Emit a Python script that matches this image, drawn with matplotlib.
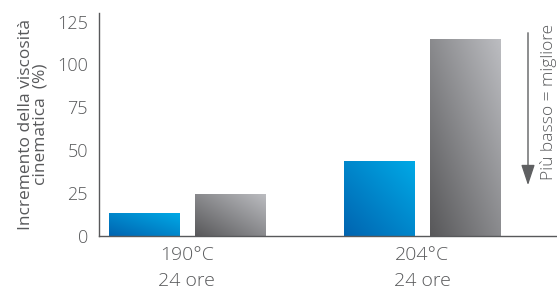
import numpy as np
import matplotlib.pyplot as plt
from matplotlib.colors import LinearSegmentedColormap
from matplotlib.patches import FancyArrowPatch

groups = ["190°C\n24 ore", "204°C\n24 ore"]
blue_values = [13.3, 43.5]
gray_values = [24.5, 115]
y_ticks = [0, 25, 50, 75, 100, 125]

TEXT = "#58595b"
blue_cmap = LinearSegmentedColormap.from_list("b", ["#0064b0", "#00a9e6"])
gray_cmap = LinearSegmentedColormap.from_list("g", ["#58585a", "#bcbdc1"])

plt.rcParams["font.family"] = ["Open Sans", "DejaVu Sans"]
plt.rcParams["font.weight"] = "light"

fig = plt.figure(figsize=(5.57, 2.93), dpi=100)
ax = fig.add_axes([99 / 557, 57 / 293, 458 / 557, 223 / 293])

x = np.arange(len(groups))
width = 0.30
offset = 0.183

# diagonal gradient image
yy, xx = np.mgrid[0:1:100j, 0:1:100j]
grad = (xx + yy) / 2


def gradient_bars(positions, values, cmap):
    bars = ax.bar(positions, values, width, color="none", edgecolor="none")
    for bar in bars:
        x0, y0 = bar.get_x(), bar.get_y()
        w, h = bar.get_width(), bar.get_height()
        im = ax.imshow(grad, extent=[x0, x0 + w, y0, y0 + h], origin="lower",
                       cmap=cmap, aspect="auto", zorder=2)
        im.set_clip_path(bar)


gradient_bars(x - offset, blue_values, blue_cmap)
gradient_bars(x + offset, gray_values, gray_cmap)

ax.set_xlim(-0.374, 1.574)
ax.set_ylim(0, 130)
ax.set_yticks(y_ticks)
ax.set_xticks(x)
ax.set_xticklabels(groups, linespacing=1.6)
ax.tick_params(length=0, colors=TEXT, labelsize=13)
ax.tick_params(axis="x", pad=7, labelsize=14)
ax.tick_params(axis="y", pad=8)
for side in ["top", "right"]:
    ax.spines[side].set_visible(False)
for side in ["left", "bottom"]:
    ax.spines[side].set_color(TEXT)
    ax.spines[side].set_linewidth(1)

ax.set_ylabel("Incremento della viscosità\ncinematica  (%)", color=TEXT,
              fontsize=12.5, linespacing=0.9, labelpad=6)

# lower-is-better arrow
fig.patches.append(FancyArrowPatch(
    (528 / 557, 1 - 30 / 293), (528 / 557, 1 - 188 / 293),
    transform=fig.transFigure, arrowstyle="-|>,head_length=0.9,head_width=0.3",
    mutation_scale=14, color="#5f6062", lw=1))
fig.text(549 / 557, 1 - 102 / 293, "Più basso = migliore", rotation=90,
         ha="center", va="center", color=TEXT, fontsize=12.5)

fig.savefig("out.png", dpi=100)
